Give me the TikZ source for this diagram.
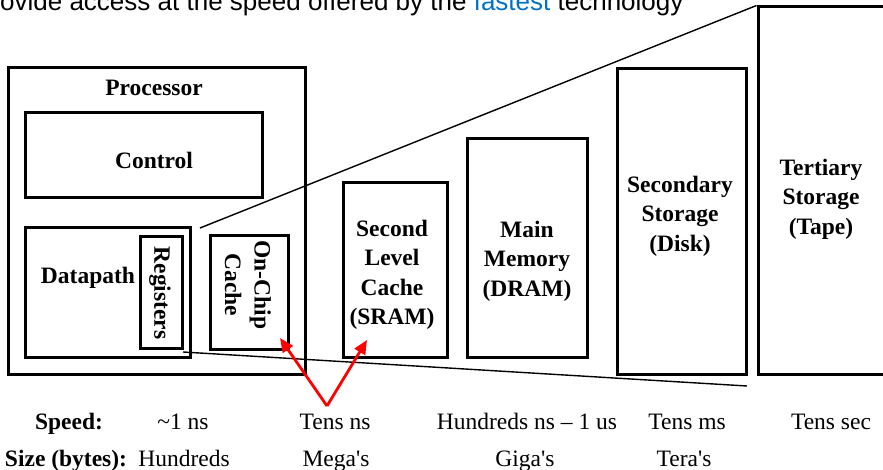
\documentclass[tikz,border=0pt]{standalone}
\usepackage{fontspec}
\setmainfont{Liberation Serif}
\newfontfamily\slidefont{Liberation Sans}
\usepackage{tikz}
\usetikzlibrary{arrows.meta}

\definecolor{slideblue}{RGB}{0,114,198}

\tikzset{
  box/.style={draw, line width=3pt, inner sep=0pt},
  lbl/.style={font=\fontsize{23.5}{29.5}\selectfont\bfseries, align=center, inner sep=0pt},
  row/.style={font=\fontsize{23.5}{27}\selectfont, inner sep=0pt, anchor=base},
  zoomline/.style={line width=1.4pt},
  pointer/.style={draw=red, line width=2.8pt, -{Triangle[length=14pt, width=12pt]}}
}

\begin{document}
\begin{tikzpicture}[x = 1pt, y = -1pt]
        \useasboundingbox (0,0) rectangle (883,470);
        \clip (0,0) rectangle (883,470);

        % slide heading, cut at the top
        \node[anchor=base west, inner sep=0pt, font=\slidefont\fontsize{26}{30}\selectfont]
          (head) at (0,11) {ovide access at the speed offered by the \textcolor{slideblue}{fastest} technology};

        % the boxes
        \node[box, minimum width=297pt, minimum height=306pt] (proc) at (156.5,221) {};
        \node[box, minimum width=237pt, minimum height=85pt] (ctrl) at (143.5,155.5) {};
        \node[box, minimum width=165pt, minimum height=129pt] (dpath) at (107.5,292.5) {};
        \node[box, minimum width=42pt, minimum height=111pt] (regs) at (161,292.5) {};
        \node[box, minimum width=78pt, minimum height=113pt] (onchip) at (249,292.5) {};
        \node[box, minimum width=104pt, minimum height=175pt] (sram) at (395,270) {};
        \node[box, minimum width=120pt, minimum height=218pt] (dram) at (527,248) {};
        \node[box, minimum width=129pt, minimum height=305pt] (disk) at (681.5,221.5) {};
        \node[box, minimum width=150pt, minimum height=367pt] (tape) at (833,190.5) {};

        % texts in the boxes
        \node[lbl] (proctext) at (154,88) {Processor};
        \node[lbl] (ctrltext) at (154,160) {Control};
        \node[lbl] (dpathtext) at (88,278) {Datapath};
        \node[lbl, rotate=-90] (regstext) at (160,293) {Registers};
        \node[lbl, rotate=-90] (onchiptext) at (248,285) {On-Chip\\Cache};
        \node[lbl] (sramtext) at (392,275) {Second\\Level\\Cache\\(SRAM)};
        \node[lbl] (dramtext) at (527,261) {Main\\Memory\\(DRAM)};
        \node[lbl] (disktext) at (680,216) {Secondary\\Storage\\(Disk)};
        \node[lbl] (tapetext) at (821,199) {Tertiary\\Storage\\(Tape)};

        % zoom lines
        \coordinate (zoomtop) at (200,228);
        \coordinate (zoombot) at (183,352);
        \coordinate (zoomend) at (747,386);
        \draw[zoomline] (zoomtop) -- (tape.north west);
        \draw[zoomline] (zoombot) -- (zoomend);

        % red pointers
        \coordinate (fork) at (327,406);
        \coordinate (tipa) at (280,338);
        \coordinate (tipb) at (367,340);
        \draw[pointer] (fork) -- (tipa);
        \draw[pointer] (fork) -- (tipb);

        % speed and size rows
        \node[row, font=\fontsize{23.5}{27}\selectfont\bfseries] (speed) at (69,429) {Speed:};
        \node[row] (speeda) at (183,429) {\textasciitilde1 ns};
        \node[row] (speedb) at (335,429) {Tens ns};
        \node[row] (speedc) at (527,429) {Hundreds ns -- 1 us};
        \node[row] (speedd) at (687,429) {Tens ms};
        \node[row] (speede) at (831,429) {Tens sec};
        \node[row, font=\fontsize{23.5}{27}\selectfont\bfseries] (size) at (66,466) {Size (bytes):};
        \node[row] (sizea) at (184,466) {Hundreds};
        \node[row] (sizeb) at (336,466) {Mega\textquotesingle s};
        \node[row] (sizec) at (525,466) {Giga\textquotesingle s};
        \node[row] (sized) at (684,466) {Tera\textquotesingle s};
      \end{tikzpicture}
\end{document}
